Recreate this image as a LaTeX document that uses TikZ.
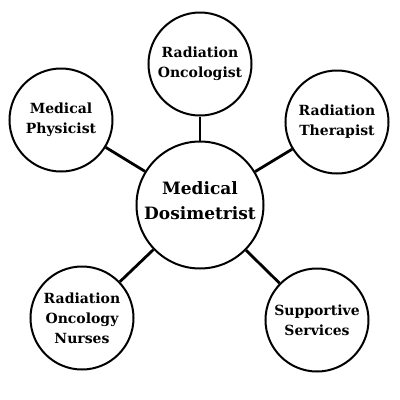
\documentclass[tikz,border=0pt]{standalone}
\usepackage{fontspec}
\setmainfont{DejaVu Serif}
\begin{document}
\begin{tikzpicture}[x=1pt,y=-1pt,
  outer/.style={circle,draw,line width=2pt,minimum size=103pt,inner sep=0pt,align=center,font=\bfseries\fontsize{14}{20}\selectfont},
  hub/.style={circle,draw,line width=2pt,minimum size=127pt,inner sep=0pt,align=center,font=\bfseries\fontsize{17}{25}\selectfont},
  link/.style={line width=2.8pt}]
\useasboundingbox (0,0) rectangle (400,400);
\node[hub] (c) at (200,205) {};
\node[hub,draw=none,minimum size=0pt] (ct) at (200,201) {Medical\\Dosimetrist};
\node[outer] (ro) at (200,64) {Radiation\\Oncologist};
\node[outer] (mp) at (61,120) {Medical\\Physicist};
\node[outer] (rt) at (337,122) {Radiation\\Therapist};
\node[outer] (rn) at (82,318) {Radiation\\Oncology\\Nurses};
\node[outer] (ss) at (317,320) {Supportive\\Services};
\foreach \n in {ro,mp,rt,rn,ss} \draw[link] (c) -- (\n);
\end{tikzpicture}
\end{document}
